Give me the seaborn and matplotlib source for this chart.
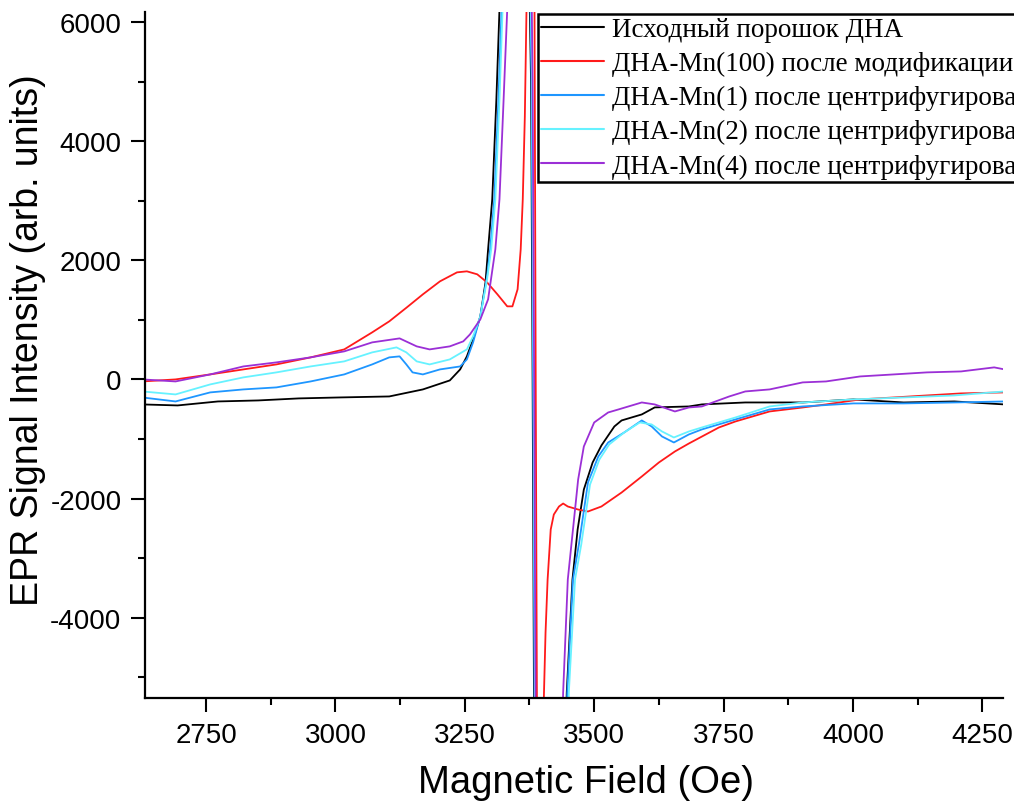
import matplotlib
matplotlib.use("Agg")
import matplotlib.pyplot as plt
import seaborn as sns
import pandas as pd
from matplotlib.lines import Line2D

# ---- data ----
labels = [
    "Исходный порошок ДНА",
    "ДНА-Mn(100) после модификации",
    "ДНА-Mn(1) после центрифугирования",
    "ДНА-Mn(2) после центрифугирования",
    "ДНА-Mn(4) после центрифугирования",
]
colors = ["#000000", "#ff1a1a", "#1e96ff", "#66f2ff", "#9b2fd6"]

black_x = [2627, 2695, 2773, 2851, 2929, 3007, 3104, 3169, 3221, 3241, 3254, 3266, 3280, 3290,
           3295, 3303, 3311, 3317, 3330, 3350, 3370, 3378, 3381, 3384, 3400, 3430, 3443, 3447,
           3458, 3468, 3480, 3497, 3514, 3539, 3553, 3592, 3617, 3683, 3708, 3792, 3903, 4001,
           4098, 4196, 4293]
black_y = [-420, -437, -370, -353, -319, -303, -286, -168, -17, 168, 387, 672, 1059, 1630,
           2185, 3025, 4706, 6219, 8000, 10000, 9000, 5000, 0, -6000, -10000, -9000, -6500, -5260,
           -3361, -2521, -1849, -1395, -1109, -790, -689, -588, -470, -454, -420, -387, -387, -336,
           -387, -370, -420]

red_x = [2627, 2691, 2758, 2822, 2886, 2952, 3017, 3071, 3104, 3138, 3169, 3202, 3235, 3254,
         3274, 3293, 3313, 3332, 3342, 3352, 3358, 3362, 3366, 3369, 3376, 3384, 3387, 3390,
         3396, 3401, 3403, 3406, 3410, 3416, 3422, 3432, 3440, 3449, 3469, 3488, 3514, 3553,
         3592, 3625, 3656, 3683, 3741, 3773, 3839, 3903, 3948, 4014, 4079, 4143, 4209, 4293]
red_y = [-34, 0, 84, 168, 252, 370, 504, 790, 975, 1210, 1429, 1647, 1798, 1815,
         1765, 1630, 1429, 1227, 1227, 1513, 2185, 3025, 4420, 6101, 9000, 8000, 0, -7000,
         -8000, -6000, -5260, -4252, -3361, -2521, -2269, -2134, -2084, -2134, -2185, -2218, -2134, -1899,
         -1630, -1395, -1210, -1076, -807, -706, -538, -471, -420, -336, -303, -269, -235, -218]

blue_x = [2627, 2691, 2758, 2822, 2886, 2952, 3017, 3071, 3104, 3124, 3137, 3149, 3169, 3202,
          3241, 3254, 3266, 3280, 3293, 3299, 3307, 3315, 3321, 3335, 3355, 3372, 3379, 3382,
          3385, 3402, 3432, 3444, 3448, 3459, 3471, 3488, 3508, 3527, 3558, 3592, 3611, 3631,
          3654, 3683, 3708, 3773, 3839, 3903, 4001, 4098, 4196, 4293]
blue_y = [-303, -370, -218, -168, -134, -34, 84, 252, 370, 387, 252, 118, 84, 168,
          218, 336, 622, 1059, 1731, 2185, 3025, 4706, 6219, 8000, 10000, 9000, 5000, 0,
          -6000, -10000, -9000, -6500, -5260, -3361, -2740, -1731, -1294, -1059, -891, -689, -790, -958,
          -1059, -924, -840, -672, -504, -454, -403, -403, -387, -370]

cyan_x = [2627, 2691, 2758, 2822, 2886, 2952, 3017, 3071, 3118, 3137, 3157, 3182, 3221, 3254,
          3266, 3280, 3293, 3301, 3309, 3317, 3323, 3337, 3356, 3373, 3380, 3383, 3386, 3404,
          3436, 3448, 3451, 3463, 3475, 3492, 3510, 3529, 3558, 3588, 3611, 3631, 3654, 3683,
          3708, 3773, 3839, 3903, 4001, 4098, 4196, 4293]
cyan_y = [-202, -252, -84, 34, 118, 218, 303, 454, 538, 454, 303, 252, 336, 504,
          723, 1059, 1681, 2185, 3025, 4706, 6219, 8000, 10000, 9000, 5000, 0, -6000, -10000,
          -9000, -6500, -5260, -3361, -2773, -1765, -1345, -1092, -891, -723, -756, -874, -975, -874,
          -807, -639, -454, -387, -336, -303, -269, -202]

purple_x = [2627, 2691, 2758, 2822, 2886, 2952, 3017, 3071, 3124, 3157, 3182, 3221, 3247, 3260,
            3280, 3295, 3309, 3317, 3325, 3332, 3345, 3362, 3376, 3381, 3384, 3387, 3405, 3430,
            3437, 3440, 3449, 3459, 3469, 3480, 3500, 3527, 3547, 3592, 3617, 3656, 3683, 3708,
            3761, 3792, 3839, 3903, 3948, 4014, 4079, 4143, 4209, 4273, 4293]
purple_y = [0, -34, 84, 218, 286, 370, 471, 622, 689, 555, 504, 555, 639, 756,
            1008, 1345, 2185, 3025, 4706, 6219, 8500, 10500, 9000, 5000, 0, -6000, -10000, -9000,
            -6500, -5260, -3361, -2521, -1681, -1126, -723, -555, -504, -387, -420, -538, -471, -454,
            -286, -202, -168, -50, -34, 50, 84, 118, 134, 202, 168]

series_x = [black_x, red_x, blue_x, cyan_x, purple_x]
series_y = [black_y, red_y, blue_y, cyan_y, purple_y]

x_ticks = [2750, 3000, 3250, 3500, 3750, 4000, 4250]
x_minor = [2875, 3125, 3375, 3625, 3875, 4125]
y_ticks = [-4000, -2000, 0, 2000, 4000, 6000]
y_minor = [-5000, -3000, -1000, 1000, 3000, 5000]

# ---- figure ----
sns.set_theme(style="ticks")
plt.rcParams["font.family"] = ["Liberation Sans", "DejaVu Sans"]
plt.rcParams["axes.unicode_minus"] = False

W, H = 1014, 804
fig = plt.figure(figsize=(W / 100, H / 100), dpi=100)
ax = fig.add_axes([145 / W, 1 - 699 / H, (1003 - 145) / W, (699 - 13) / H])

frames = []
for lab, xs, ys in zip(labels, series_x, series_y):
    frames.append(pd.DataFrame({"field": xs, "intensity": ys, "sample": lab}))
df = pd.concat(frames, ignore_index=True)

sns.lineplot(data=df, x="field", y="intensity", hue="sample", hue_order=labels,
             palette=colors, estimator=None, sort=False, linewidth=1.3, ax=ax, legend=False)

ax.set_xticks(x_ticks)
ax.set_yticks(y_ticks)
ax.set_xticks(x_minor, minor=True)
ax.set_yticks(y_minor, minor=True)
ax.set_xlim(2632, 4290)
ax.set_ylim(-5350, 6170)

for side in ["top", "right"]:
    ax.spines[side].set_visible(False)
for side in ["left", "bottom"]:
    ax.spines[side].set_linewidth(1.6)
    ax.spines[side].set_color("black")

ax.tick_params(axis="both", which="major", direction="out", length=10, width=1.5,
               labelsize=20, colors="black", labelcolor="black", pad=7)
ax.tick_params(axis="both", which="minor", direction="out", length=5, width=1.5, colors="black")

ax.set_xlabel("Magnetic Field (Oe)", fontsize=27.5, color="black")
ax.set_ylabel("EPR Signal Intensity (arb. units)", fontsize=27, color="black")
ax.xaxis.set_label_coords((586 - 145) / 858, -(783 - 699) / 686, transform=ax.transAxes)
ax.yaxis.set_label_coords(-(145 - 28) / 858, (699 - 340) / 686, transform=ax.transAxes)
ax.xaxis.label.set_verticalalignment("center")
ax.yaxis.label.set_verticalalignment("center")

# legend
handles = [Line2D([0], [0], color=c, lw=1.5) for c in colors]
leg = fig.legend(handles, labels, loc="upper left", bbox_to_anchor=(538 / W, 1 - 15 / H),
                 bbox_transform=fig.transFigure, frameon=True, fancybox=False,
                 framealpha=1, edgecolor="black", borderpad=0.12, labelspacing=0.33,
                 handlelength=2.3, handletextpad=0.33, borderaxespad=0,
                 prop={"family": ["Liberation Serif", "DejaVu Serif"], "size": 19.5})
leg.get_frame().set_linewidth(1.8)
for t in leg.get_texts():
    t.set_color("black")

fig.savefig("out.png", dpi=100)
